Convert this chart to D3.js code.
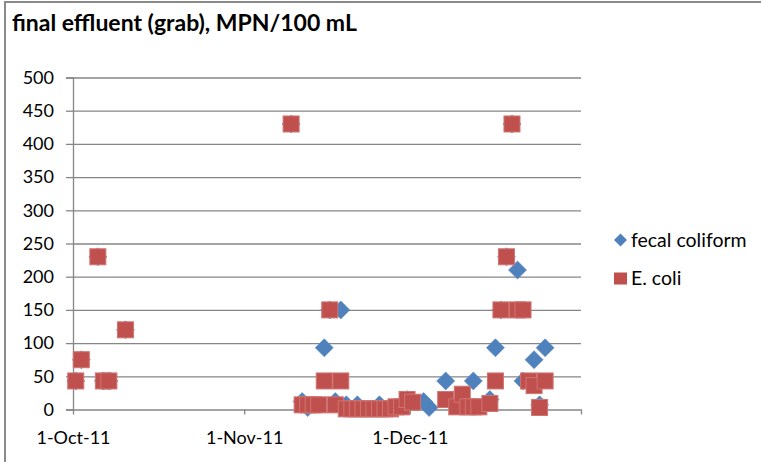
<!DOCTYPE html>
<html>
<head>
<meta charset="utf-8">
<script src="https://cdn.jsdelivr.net/npm/d3@7"></script>
<style>
  body { margin: 0; background: #fff; }
  svg text { font-family: Lato, "Liberation Sans", sans-serif; fill: #000; }
</style>
</head>
<body>
<div id="chart"></div>
<script>
// final effluent grab samples, fecal coliform vs E. coli (MPN/100 mL)

const fecalDates = ["2011-10-01","2011-10-02","2011-10-05","2011-10-06","2011-10-07","2011-10-10",
  "2011-11-09","2011-11-11","2011-11-12","2011-11-15","2011-11-16","2011-11-17","2011-11-18",
  "2011-11-19","2011-11-21","2011-11-25","2011-11-30","2011-12-03","2011-12-04","2011-12-07",
  "2011-12-12","2011-12-15","2011-12-16","2011-12-17","2011-12-18","2011-12-19","2011-12-20",
  "2011-12-21","2011-12-23","2011-12-24","2011-12-25"];
const fecalValues = [43, 75, 230, 43, 43, 120,
  430, 12, 3, 93, 150, 12, 150,
  7, 7, 7, 15, 12, 3, 43,
  43, 15, 93, 150, 230, 430, 210,
  43, 75, 7, 93];

const ecoliDates = ["2011-10-01","2011-10-02","2011-10-05","2011-10-06","2011-10-07","2011-10-10",
  "2011-11-09","2011-11-11","2011-11-12","2011-11-13","2011-11-14","2011-11-15","2011-11-16",
  "2011-11-17","2011-11-18","2011-11-19","2011-11-20","2011-11-21","2011-11-22","2011-11-23",
  "2011-11-24","2011-11-25","2011-11-26","2011-11-27","2011-11-28","2011-11-29","2011-11-30",
  "2011-12-01","2011-12-07","2011-12-09","2011-12-10","2011-12-11","2011-12-12","2011-12-13",
  "2011-12-15","2011-12-16","2011-12-17","2011-12-18","2011-12-19","2011-12-20","2011-12-21",
  "2011-12-22","2011-12-23","2011-12-24","2011-12-25"];
const ecoliValues = [43, 75, 230, 43, 43, 120,
  430, 7, 7, 7, 7, 43, 150,
  7, 43, 1, 1, 1, 1, 1,
  1, 1, 1, 1, 4, 4, 15,
  11, 15, 4, 23, 4, 4, 4,
  9, 43, 150, 230, 430, 150, 150,
  43, 36, 3, 43];

const yTicks = [0, 50, 100, 150, 200, 250, 300, 350, 400, 450, 500];
const xTickDates = ["2011-10-01", "2011-11-01", "2011-12-01", "2012-01-01"];
const xTickLabels = ["1-Oct-11", "1-Nov-11", "1-Dec-11", ""];
const seriesNames = ["fecal coliform", "E. coli"];

const width = 761, height = 462;
const parse = d3.utcParse("%Y-%m-%d");
const blue = "#4F81BD", red = "#C0504D", grid = "#868686";

const svg = d3.select("#chart").append("svg")
    .attr("width", width)
    .attr("height", height);

// plot area
const x = d3.scaleUtc()
    .domain([parse(xTickDates[0]), parse(xTickDates[3])])
    .range([73, 581]);
const y = d3.scaleLinear().domain([0, 500]).range([409.5, 77.5]);

// date axis puts each point in the middle of its day
const px = s => x(d3.utcHour.offset(parse(s), 12));

// gridlines
svg.append("g")
    .attr("transform", "translate(73,0)")
    .call(d3.axisLeft(y).tickValues(yTicks.slice(1)).tickSize(-(581 - 73)).tickFormat(""))
    .call(g => g.select(".domain").remove())
    .selectAll("line").attr("stroke", grid).attr("stroke-width", 1.3);

// y axis
svg.append("g")
    .attr("transform", "translate(73,0)")
    .call(d3.axisLeft(y).tickValues(yTicks).tickSize(7).tickPadding(12))
    .call(g => g.select(".domain").attr("stroke", grid).attr("stroke-width", 1.3))
    .call(g => g.selectAll("line").attr("stroke", grid).attr("stroke-width", 1.3))
    .call(g => g.selectAll("text").style("font-size", "18px").attr("fill", "#000"));

// x axis
svg.append("g")
    .attr("transform", "translate(0,409.5)")
    .call(d3.axisBottom(x)
        .tickValues(xTickDates.map(parse))
        .tickSize(5).tickSizeOuter(0).tickPadding(17)
        .tickFormat((d, i) => xTickLabels[i]))
    .call(g => g.select(".domain").attr("stroke", grid).attr("stroke-width", 1.3))
    .call(g => g.selectAll("line").attr("stroke", grid).attr("stroke-width", 1.3))
    .call(g => g.selectAll("text").style("font-size", "18px").attr("fill", "#000"));

// fecal coliform diamonds
const diamond = d3.symbol(d3.symbolSquare, 162);
svg.append("g")
    .selectAll("path")
    .data(fecalDates)
    .enter()
    .append("path")
    .attr("d", diamond)
    .attr("transform", (d, i) => `translate(${px(d)},${y(fecalValues[i])}) rotate(45)`)
    .attr("fill", blue)
    .attr("stroke", "#5A8AC6")
    .attr("stroke-width", 0.6);

// E. coli squares
svg.append("g")
    .selectAll("rect")
    .data(ecoliDates)
    .enter()
    .append("rect")
    .attr("x", d => px(d) - 8)
    .attr("y", (d, i) => y(ecoliValues[i]) - 8)
    .attr("width", 16)
    .attr("height", 16)
    .attr("fill", red)
    .attr("stroke", "#D07472")
    .attr("stroke-width", 1);

// legend
const legend = svg.append("g");
legend.append("path")
    .attr("d", d3.symbol(d3.symbolSquare, 84))
    .attr("transform", "translate(620.5,240) rotate(45)")
    .attr("fill", blue);
legend.append("rect")
    .attr("x", 614).attr("y", 272.5)
    .attr("width", 13).attr("height", 12)
    .attr("fill", red);
legend.selectAll("text.lab")
    .data(seriesNames)
    .enter()
    .append("text")
    .attr("class", "lab")
    .attr("x", 631)
    .attr("y", (d, i) => [246.5, 284.5][i])
    .style("font-size", "19.5px")
    .text(d => d);

// title
svg.append("text")
    .attr("x", 12)
    .attr("y", 31)
    .style("font-size", "23px")
    .style("font-weight", "bold")
    .text("final effluent (grab), MPN/100 mL");

// chart border (top and left edges show)
svg.append("path")
    .attr("d", "M5,462 V2 H761")
    .attr("fill", "none")
    .attr("stroke", "#8A8A8A")
    .attr("stroke-width", 2);
</script>
</body>
</html>
